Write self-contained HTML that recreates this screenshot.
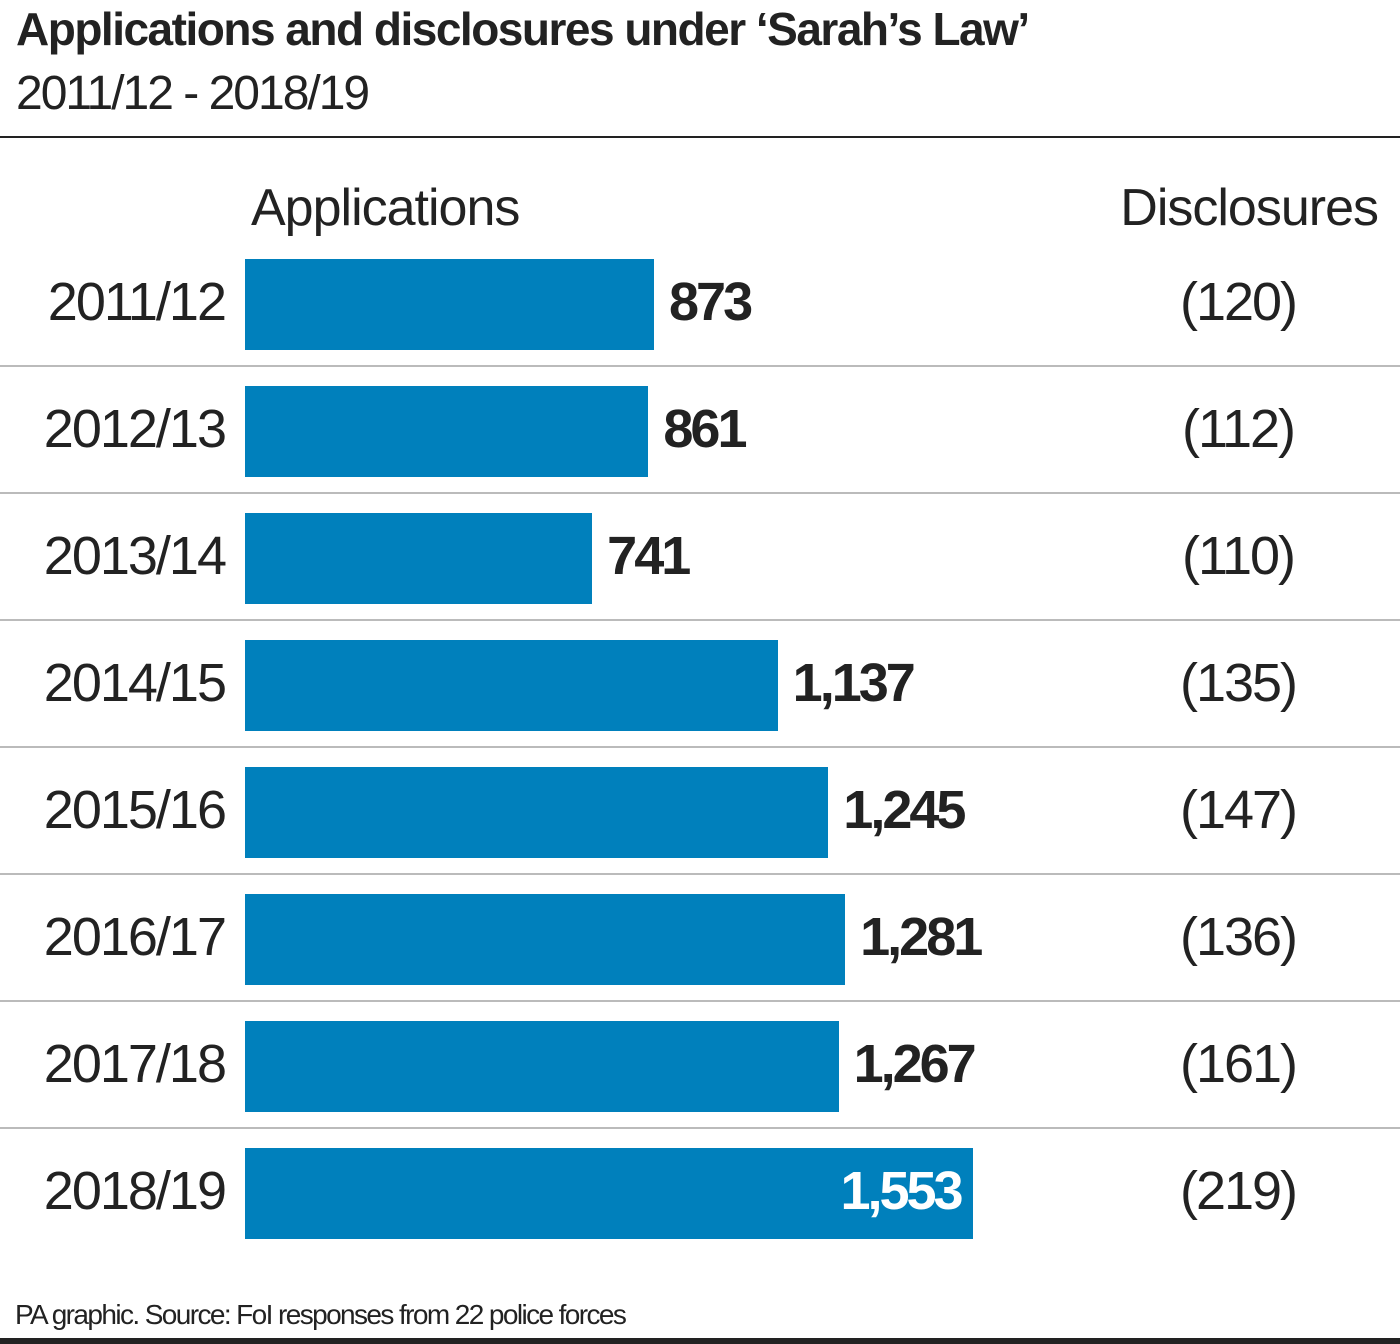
<!DOCTYPE html>
<html><head><meta charset="utf-8"><style>
body{margin:0;width:1400px;height:1344px;background:#fff;position:relative;overflow:hidden;font-family:"Liberation Sans",sans-serif;color:#222}
.t{position:absolute;white-space:nowrap}
</style></head><body>
<div class="t" style="left:16px;top:2px;font-size:46px;font-weight:bold;letter-spacing:-1.5px">Applications and disclosures under ‘Sarah’s Law’</div>
<div class="t" style="left:16px;top:66px;font-size:48px;letter-spacing:-2px">2011/12 - 2018/19</div>
<div style="position:absolute;left:0;top:136px;width:1400px;height:2px;background:#222"></div>
<div class="t" style="left:251px;top:178px;font-size:52px;letter-spacing:-1px">Applications</div>
<div class="t" style="right:22px;top:178px;font-size:52px;letter-spacing:-1px">Disclosures</div>
<div id="chart"></div>
<div class="t" style="left:15px;top:1299px;font-size:28px;letter-spacing:-1.6px">PA graphic. Source: FoI responses from 22 police forces</div>
<div style="position:absolute;left:0;top:1338px;width:1400px;height:6px;background:#222"></div>
<script>
const years=["2011/12","2012/13","2013/14","2014/15","2015/16","2016/17","2017/18","2018/19"];
const applications=[873,861,741,1137,1245,1281,1267,1553];
const disclosures=[120,112,110,135,147,136,161,219];
const x0=245, scale=409/873, rowTop=259, pitch=127, barH=91;
const xLen=v=>v*scale;
const fmt=v=>v.toLocaleString('en-GB');
const c=document.getElementById('chart');
years.forEach((y,i)=>{
  const top=rowTop+i*pitch;
  const w=xLen(applications[i]);
  const lab=document.createElement('div');
  
  
  lab.className='t';lab.textContent=y;
  lab.style.cssText=`right:${1400-225}px;top:${top+12}px;font-size:54px;letter-spacing:-2px`;
  c.appendChild(lab);
  const b=document.createElement('div');
  
  
  b.style.cssText=`position:absolute;left:${x0}px;top:${top}px;width:${w}px;height:${barH}px;background:#0080bc`;
  c.appendChild(b);
  const v=document.createElement('div');
  
  
  v.className='t';v.textContent=fmt(applications[i]);
  const last=i===years.length-1;
  v.style.cssText=`top:${top+12}px;font-size:54px;font-weight:bold;letter-spacing:-3px;`+(last?`right:${1400-(x0+w)+12}px;color:#fff`:`left:${x0+w+15}px`);
  c.appendChild(v);
  const d=document.createElement('div');
  
  
  d.className='t';d.textContent='('+disclosures[i]+')';
  d.style.cssText=`left:1088px;width:300px;text-align:center;top:${top+12}px;font-size:54px;letter-spacing:-2px`;
  c.appendChild(d);
  if(i<years.length-1){
    const s=document.createElement('div');
    
    
    s.style.cssText=`position:absolute;left:0;top:${top+106}px;width:1400px;height:2px;background:#bbb`;
    c.appendChild(s);
  }
});
</script>
</body></html>
